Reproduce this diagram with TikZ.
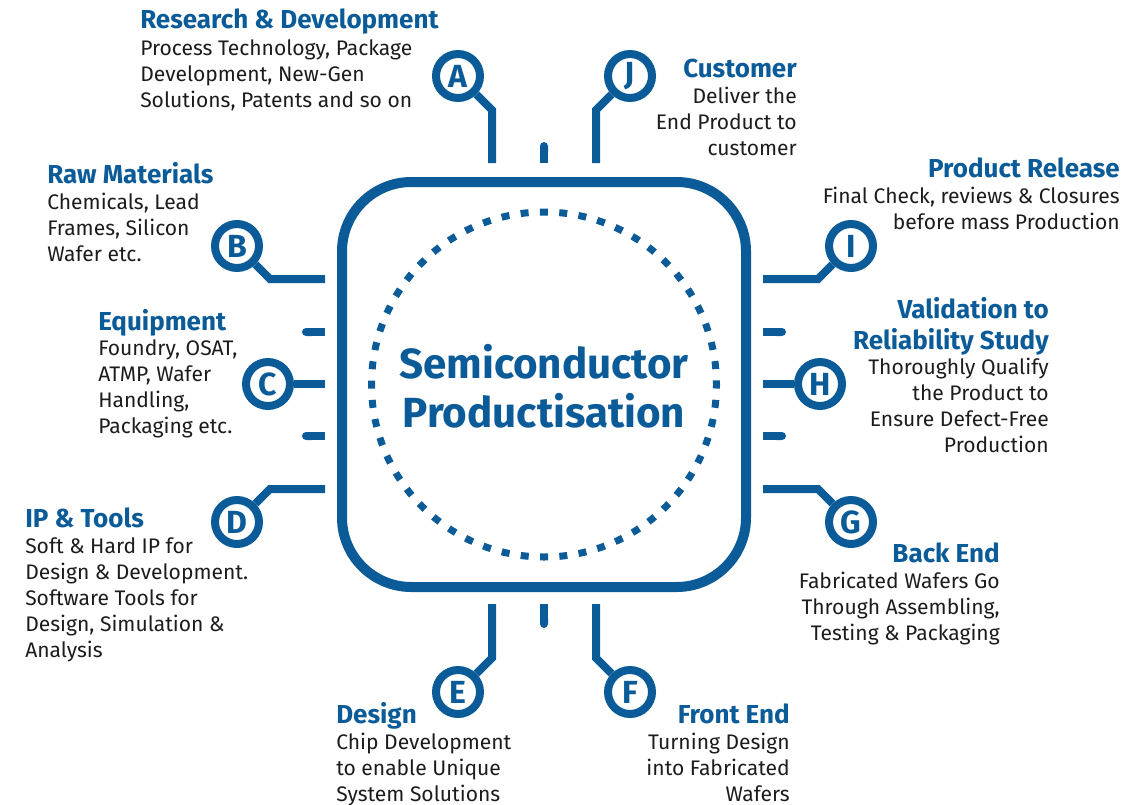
\documentclass[tikz,border=0pt]{standalone}
\usepackage{fontspec}
\setmainfont{Fira Sans}
\usetikzlibrary{arrows.meta}
\definecolor{chipblue}{HTML}{0A5B98}
\definecolor{ink}{HTML}{1C1C1C}
\begin{document}
\begin{tikzpicture}[x=0.75pt,y=-0.75pt,
  pin/.style={draw=chipblue, line width=6pt, circle, minimum size=33pt, inner sep=0pt,
    font=\fontsize{24}{24}\selectfont\bfseries, text=chipblue},
  lead/.style={draw=chipblue, line width=6pt, line join=miter},
  stub/.style={draw=chipblue, line width=6pt, -{Round Cap[]}},
  head/.style={font=\fontsize{19.5}{23.25}\selectfont\bfseries, text=chipblue, inner sep=0pt},
  body/.style={font=\fontsize{15.8}{19.5}\selectfont, text=ink, inner sep=0pt},
]
\useasboundingbox (0,0) rectangle (1143,804);

% chip outline and dotted die ring
\draw[chipblue, line width=7.5pt, rounded corners=52pt] (342,182) rectangle (746,587);
\draw[chipblue, line width=5.25pt, dash pattern=on 6pt off 8.516pt, dash phase=3pt]
  (544,384.5) circle[radius=172.5];
% (base anchor of a multi-line node sits on its last line)
\node[font=\fontsize{31.6}{36.75}\selectfont\bfseries, text=chipblue, align=center, inner sep=0pt, anchor=base]
  (title) at (544,427) {Semiconductor\\Productisation};

% lettered pins
\node[pin] (A) at (458,76) {A};
\node[pin] (J) at (630,76) {J};
\node[pin] (E) at (458,692) {E};
\node[pin] (F) at (630,692) {F};
\node[pin] (B) at (237,246) {B};
\node[pin] (C) at (268,384) {C};
\node[pin] (D) at (237,522) {D};
\node[pin] (I) at (851,246) {I};
\node[pin] (H) at (820,384) {H};
\node[pin] (G) at (851,522) {G};

% lead ends at the chip
\coordinate (a1) at (492,110); \coordinate (a2) at (492,163);
\coordinate (j1) at (596,110); \coordinate (j2) at (596,163);
\coordinate (e1) at (492,658); \coordinate (e2) at (492,604);
\coordinate (f1) at (596,658); \coordinate (f2) at (596,604);
\coordinate (b1) at (270,279); \coordinate (b2) at (325,279);
\coordinate (c2) at (325,384);
\coordinate (d1) at (270,489); \coordinate (d2) at (325,489);
\coordinate (i1) at (818,279); \coordinate (i2) at (763,279);
\coordinate (h2) at (763,384);
\coordinate (g1) at (818,489); \coordinate (g2) at (763,489);

\draw[lead] (A.-45) -- (a1) -- (a2);
\draw[lead] (J.-135) -- (j1) -- (j2);
\draw[lead] (E.45) -- (e1) -- (e2);
\draw[lead] (F.135) -- (f1) -- (f2);
\draw[lead] (B.-45) -- (b1) -- (b2);
\draw[lead] (C.east) -- (c2);
\draw[lead] (D.45) -- (d1) -- (d2);
\draw[lead] (I.-135) -- (i1) -- (i2);
\draw[lead] (H.west) -- (h2);
\draw[lead] (G.135) -- (g1) -- (g2);

% short unlabelled leads
\coordinate (t0) at (544,163); \coordinate (t1) at (544,142);
\coordinate (u0) at (544,604); \coordinate (u1) at (544,628);
\coordinate (l0) at (325,332); \coordinate (l1) at (302,332);
\coordinate (m0) at (325,436); \coordinate (m1) at (302,436);
\coordinate (r0) at (763,332); \coordinate (r1) at (786,332);
\coordinate (s0) at (763,436); \coordinate (s1) at (786,436);
\draw[stub] (t0) -- (t1);
\draw[stub] (u0) -- (u1);
\draw[stub] (l0) -- (l1);
\draw[stub] (m0) -- (m1);
\draw[stub] (r0) -- (r1);
\draw[stub] (s0) -- (s1);

% captions: each body node is placed by the baseline of its last line
\node[head, anchor=base west] (Ah) at (140,28) {Research \& Development};
\node[body, anchor=base west, align=left] (Ab) at (140,107)
  {Process Technology, Package\\Development, New-Gen\\Solutions, Patents and so on};

\node[head, anchor=base east] (Jh) at (797,77) {Customer};
\node[body, anchor=base east, align=right] (Jb) at (797,155)
  {Deliver the\\End Product to\\customer};

\node[head, anchor=base west] (Bh) at (47,183) {Raw Materials};
\node[body, anchor=base west, align=left] (Bb) at (47,261)
  {Chemicals, Lead\\Frames, Silicon\\Wafer etc.};

\node[head, anchor=base east] (Ih) at (1120,177) {Product Release};
\node[body, anchor=base east, align=right] (Ib) at (1120,229)
  {Final Check, reviews \& Closures\\before mass Production};

\node[head, anchor=base west] (Ch) at (98,330) {Equipment};
\node[body, anchor=base west, align=left] (Cb) at (98,433)
  {Foundry, OSAT,\\ATMP, Wafer\\Handling,\\Packaging etc.};

\node[head, anchor=base east, align=right] (Hh) at (1049,349) {Validation to\\Reliability Study};
\node[body, anchor=base east, align=right] (Hb) at (1049,452)
  {Thoroughly Qualify\\the Product to\\Ensure Defect-Free\\Production};

\node[head, anchor=base west] (Dh) at (25,527) {IP \& Tools};
\node[body, anchor=base west, align=left] (Db) at (25,657)
  {Soft \& Hard IP for\\Design \& Development.\\Software Tools for\\Design, Simulation \&\\Analysis};

\node[head, anchor=base east] (Gh) at (1000,562) {Back End};
\node[body, anchor=base east, align=right] (Gb) at (1000,640)
  {Fabricated Wafers Go\\Through Assembling,\\Testing \& Packaging};

\node[head, anchor=base west] (Eh) at (336,723) {Design};
\node[body, anchor=base west, align=left] (Eb) at (336,801)
  {Chip Development\\to enable Unique\\System Solutions};

\node[head, anchor=base east] (Fh) at (790,723) {Front End};
\node[body, anchor=base east, align=right] (Fb) at (790,801)
  {Turning Design\\into Fabricated\\Wafers};
\end{tikzpicture}
\end{document}
